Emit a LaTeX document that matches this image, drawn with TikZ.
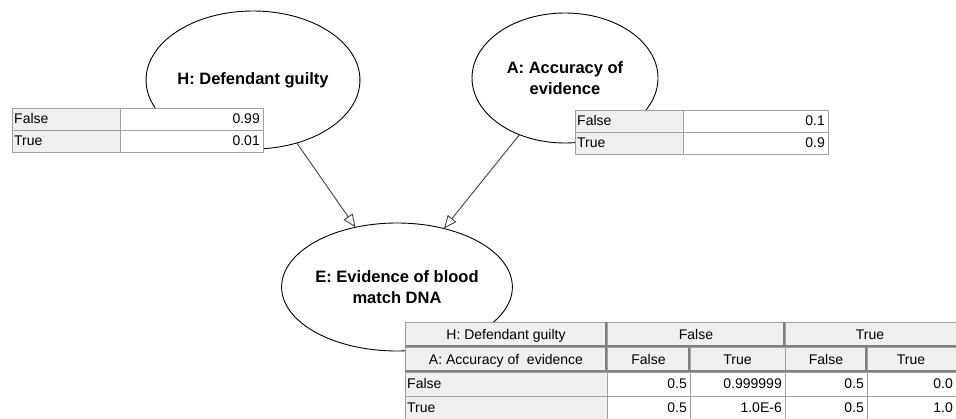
\documentclass[tikz,border=0pt]{standalone}
\usepackage{fontspec}
\setmainfont{Liberation Sans}
\usetikzlibrary{shapes.geometric,arrows.meta}
\definecolor{cellfill}{HTML}{F0F0F0}
\definecolor{cellline}{HTML}{A0A0A0}
\definecolor{hdrline}{HTML}{808080}
\definecolor{edgecol}{HTML}{404040}
\newcommand{\tabtext}{\fontsize{14}{16}\selectfont}
\newcommand{\vartext}{\fontsize{16.5}{21}\selectfont\bfseries}

\begin{document}
\begin{tikzpicture}[x=1pt, y=-1pt,
    var/.style={ellipse, draw=black, fill=white, line width=0.9pt, inner sep=0pt, outer sep=0pt, align=center, font=\vartext},
    arc/.style={-{Triangle[open, length=13pt, width=11pt]}, draw=edgecol, line width=0.9pt},
    gcell/.style={draw=cellline, fill=cellfill, line width=0.8pt},
    wcell/.style={draw=cellline, fill=white, line width=0.8pt},
    lab/.style={anchor=west, inner sep=0pt, text height=10pt, text depth=0pt, font=\tabtext},
    val/.style={anchor=east, inner sep=0pt, text height=10pt, text depth=0pt, font=\tabtext},
    hdr/.style={anchor=center, inner sep=0pt, text height=10pt, text depth=0pt, font=\tabtext}]
    \useasboundingbox (0,0) rectangle (956,419);
    \clip (0,0) rectangle (956,419);

    % Variables
    \node[var, minimum width=184pt, minimum height=138pt] (H) at (253,80) {H: Defendant guilty};
    \node[var, minimum width=186pt, minimum height=130pt] (A) at (565,78) {A: Accuracy of\\evidence};
    \node[var, minimum width=184pt, minimum height=128pt] (E) at (397,287) {E: Evidence of blood\\match DNA};

    \draw[arc] (H) -- (E);
    \draw[arc] (A) -- (E);

    % Table of H
    \draw[gcell] (12,108) rectangle (120,130);
    \draw[wcell] (120,108) rectangle (263,130);
    \draw[gcell] (12,130) rectangle (120,152);
    \draw[wcell] (120,130) rectangle (263,152);
    \node[lab] (hF) at (14,119) {False};
    \node[val] (hFv) at (260,119) {0.99};
    \node[lab] (hT) at (14,141) {True};
    \node[val] (hTv) at (260,141) {0.01};

    % Table of A
    \draw[gcell] (575,110) rectangle (683,132);
    \draw[wcell] (683,110) rectangle (828,132);
    \draw[gcell] (575,132) rectangle (683,154);
    \draw[wcell] (683,132) rectangle (828,154);
    \node[lab] (aF) at (577,121) {False};
    \node[val] (aFv) at (825,121) {0.1};
    \node[lab] (aT) at (577,143) {True};
    \node[val] (aTv) at (825,143) {0.9};

    % Table of E
    \draw[gcell] (405,322) rectangle (607,347);
    \draw[gcell] (607,322) rectangle (785,347);
    \draw[gcell] (785,322) rectangle (960,347);
    \draw[gcell] (405,347) rectangle (607,372);
    \draw[gcell] (607,347) rectangle (690,372);
    \draw[gcell] (690,347) rectangle (785,372);
    \draw[gcell] (785,347) rectangle (867,372);
    \draw[gcell] (867,347) rectangle (960,372);
    \draw[gcell] (405,372) rectangle (607,396);
    \draw[wcell] (607,372) rectangle (690,396);
    \draw[wcell] (690,372) rectangle (785,396);
    \draw[wcell] (785,372) rectangle (867,396);
    \draw[wcell] (867,372) rectangle (960,396);
    \draw[gcell] (405,396) rectangle (607,422);
    \draw[wcell] (607,396) rectangle (690,422);
    \draw[wcell] (690,396) rectangle (785,422);
    \draw[wcell] (785,396) rectangle (867,422);
    \draw[wcell] (867,396) rectangle (960,422);
    % header edges
    \draw[hdrline, line width=1.6pt] (405,346) -- (960,346);
    \draw[hdrline, line width=1.6pt] (405,371) -- (960,371);
    \draw[hdrline, line width=1.6pt] (606,322) -- (606,372);
    \draw[hdrline, line width=1.6pt] (784,322) -- (784,347);
    \draw[hdrline, line width=1.2pt] (689,347) -- (689,372);
    \draw[hdrline, line width=1.2pt] (866,347) -- (866,372);

    \node[hdr] (eH) at (506,334.5) {H: Defendant guilty};
    \node[hdr] (eHF) at (696,334.5) {False};
    \node[hdr] (eHT) at (870,334.5) {True};
    \node[hdr] (eA) at (506,359.5) {A: Accuracy of~ evidence};
    \node[hdr] (eAF1) at (648.5,359.5) {False};
    \node[hdr] (eAT1) at (737.5,359.5) {True};
    \node[hdr] (eAF2) at (826,359.5) {False};
    \node[hdr] (eAT2) at (911,359.5) {True};
    \node[lab] (eF) at (407,384) {False};
    \node[val] (eF1) at (687,384) {0.5};
    \node[val] (eF2) at (782,384) {0.999999};
    \node[val] (eF3) at (864,384) {0.5};
    \node[val] (eF4) at (953,384) {0.0};
    \node[lab] (eT) at (407,408) {True};
    \node[val] (eT1) at (687,408) {0.5};
    \node[val] (eT2) at (782,408) {1.0E-6};
    \node[val] (eT3) at (864,408) {0.5};
    \node[val] (eT4) at (953,408) {1.0};
\end{tikzpicture}
\end{document}
